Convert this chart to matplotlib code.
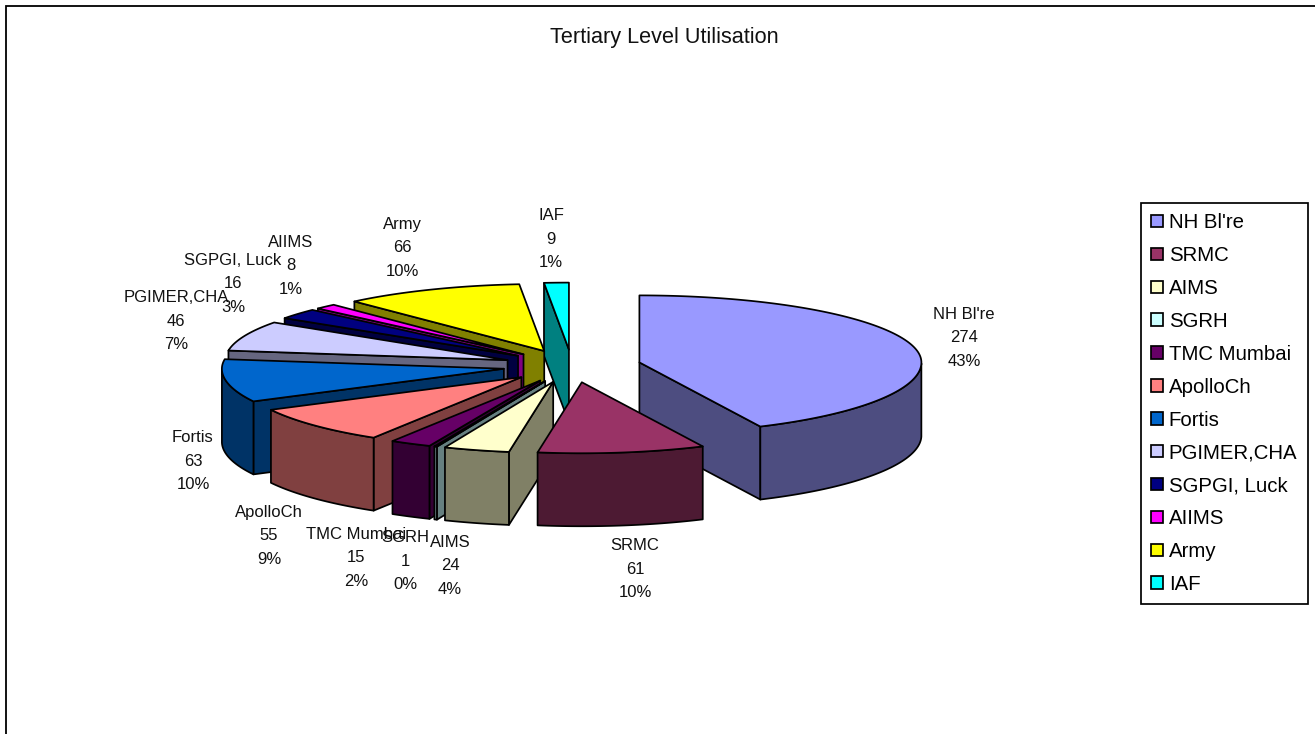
import numpy as np
import matplotlib
matplotlib.use("Agg")
import matplotlib.pyplot as plt
from matplotlib.patches import Polygon, Rectangle

plt.rcParams['font.family'] = ['Liberation Sans', 'DejaVu Sans']

categories = ["NH Bl're", "SRMC", "AIMS", "SGRH", "TMC Mumbai", "ApolloCh",
              "Fortis", "PGIMER,CHA", "SGPGI, Luck", "AIIMS", "Army", "IAF"]
values = [274, 61, 24, 1, 15, 55, 63, 46, 16, 8, 66, 9]
top_colors = ["#9999FF", "#993366", "#FFFFCC", "#CCFFFF", "#660066", "#FF8080",
              "#0066CC", "#CCCCFF", "#000080", "#FF00FF", "#FFFF00", "#00FFFF"]
side_colors = ["#4D4D80", "#4D1A33", "#808066", "#668080", "#330033", "#804040",
               "#003366", "#666680", "#000040", "#800080", "#808000", "#008080"]
title = "Tertiary Level Utilisation"
label_spots = [(964, 338), (635, 569), (450, 566), (405, 561), (356, 558), (269, 536),
               (193, 461), (176, 321), (233, 284), (291, 266), (402, 248), (551, 239)]

W, H = 1315, 734
fig = plt.figure(figsize=(W / 100, H / 100), dpi=100)
ax = fig.add_axes([0, 0, 1, 1])
ax.set_xlim(0, W)
ax.set_ylim(H, 0)
ax.axis('off')

# projection of the tilted pie, in pixels; the near half looks slightly larger
CX, CY, RX, RY_BACK, RY_FRONT, DEPTH, EXPLODE = 572, 366, 282, 67, 71, 73, 0.245
total = sum(values)
edges = np.cumsum([0] + values) / total * 2 * np.pi


def rim(theta, ox, oy):
    c = np.cos(theta)
    return np.column_stack([ox + RX * np.sin(theta),
                            oy - np.where(c > 0, RY_BACK, RY_FRONT) * c])


ax.add_patch(Rectangle((6, 6), W + 20, H + 20, fc='white', ec='black', lw=1.3, zorder=0))

order = sorted(range(len(values)), key=lambda i: -np.cos((edges[i] + edges[i + 1]) / 2))
z = 2
style = dict(ec='black', lw=1.25, joinstyle='round')
for i in order:
    a0, a1 = edges[i], edges[i + 1]
    mid = (a0 + a1) / 2
    ox = CX + EXPLODE * RX * np.sin(mid)
    oy = CY - EXPLODE * RY_BACK * np.cos(mid)
    th = np.linspace(a0, a1, max(3, int((a1 - a0) * 60)))
    arc = rim(th, ox, oy)
    apex = np.array([ox, oy])
    drop = np.array([0, DEPTH])
    for p, q in ((apex, arc[0]), (arc[-1], apex)):
        if q[0] - p[0] < 0:
            ax.add_patch(Polygon([p, q, q + drop, p + drop], fc=side_colors[i], zorder=z, **style))
            z += 1
    visible = np.cos(th) < 0
    if visible.sum() >= 2:
        seg = arc[visible]
        ax.add_patch(Polygon(np.vstack([seg, seg[::-1] + drop]), fc=side_colors[i], zorder=z, **style))
        z += 1
    ax.add_patch(Polygon(np.vstack([apex, arc]), fc=top_colors[i], zorder=z, **style))
    z += 1

for name, v, (x, y) in zip(categories, values, label_spots):
    ax.text(x, y, f"{name}\n{v}\n{round(v / total * 100)}%", ha='center', va='center',
            fontsize=12, linespacing=1.68, color='#111111', zorder=500)

ax.text(664, 38, title, ha='center', va='center', fontsize=15.6, color='#111111', zorder=500)

handles = [Rectangle((0, 0), 1, 1, fc=c, ec='black', lw=1.25) for c in top_colors]
leg = ax.legend(handles, categories, loc='upper left',
                bbox_to_anchor=(1141 / W, 1 - 203 / H), bbox_transform=ax.transAxes,
                frameon=True, fancybox=False, edgecolor='black', framealpha=1,
                fontsize=14.7, handlelength=0.56, handleheight=0.56, handletextpad=0.3,
                labelspacing=0.68, borderaxespad=0, borderpad=0.5)
leg.set_zorder(600)
leg.get_frame().set_linewidth(1.25)

fig.savefig("out.png", dpi=100)
